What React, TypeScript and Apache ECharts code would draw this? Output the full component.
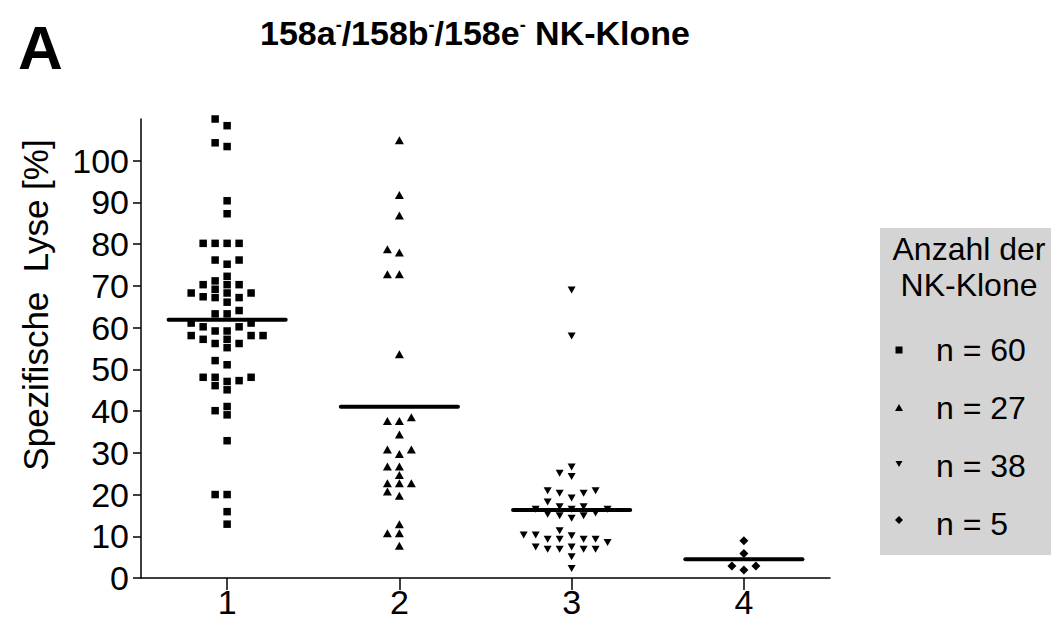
import React, { useEffect, useRef } from "react";
import * as echarts from "echarts";

// Spezifische Lyse [%] per NK-Klon, one column per target group
const categories = ["1", "2", "3", "4"];

const group1 = [
  110, 108.4, 104.3, 103.4, 90.4, 87.3, 80.2, 80.2, 80.2, 80.2, 76.2, 76.2,
  75.2, 72.3, 71.2, 70.3, 70.3, 70.3, 69.2, 68.3, 68.3, 68.3, 67.4, 67.2, 67.2,
  66.1, 64.1, 63.3, 63.3, 61.1, 61.1, 60.2, 60.2, 59.2, 59.2, 58.1, 58.1, 58.1,
  57.2, 57.2, 56.2, 56.2, 55.2, 52.1, 51.1, 48.1, 48.1, 48.1, 47.3, 47.1, 46.1,
  45.1, 41.1, 40.1, 39.1, 32.9, 20.0, 20.0, 15.9, 12.9,
];

const group2 = [
  104.9, 91.8, 86.9, 78.8, 78.0, 72.8, 72.8, 53.6, 38.5, 37.6, 37.6, 34.4, 30.8,
  30.8, 29.7, 26.7, 26.7, 24.7, 22.7, 22.7, 22.7, 20.7, 19.7, 12.9, 10.7, 10.7,
  7.7,
];

const group3 = [
  69.0, 58.0, 26.6, 25.1, 24.3, 20.9, 20.9, 20.3, 20.3, 19.2, 18.2, 17.1, 17.1,
  16.5, 16.5, 16.5, 15.6, 15.3, 14.9, 14.9, 14.3, 11.3, 10.3, 10.3, 10.1, 9.3,
  9.3, 9.3, 9.3, 8.5, 7.4, 7.4, 6.9, 6.9, 6.9, 6.9, 5.1, 2.3,
];

const group4 = [8.9, 5.9, 2.9, 2.9, 1.9];

const groups = [group1, group2, group3, group4];
const symbols = ["rect", "triangle", "triangle", "diamond"];
const symbolRotations = [0, 0, 180, 0];
const symbolSizes: (number | number[])[] = [7.5, [9, 8], [8, 7], [9, 9]];

const yTicks = [0, 10, 20, 30, 40, 50, 60, 70, 80, 90, 100];
const yMax = 110;

const titleText = "158a{sup|-}/158b{sup|-}/158e{sup|-} NK-Klone";
const panelLetter = "A";
const yAxisName = "Spezifische  Lyse [%]";
const legendTitle = ["Anzahl der", "NK-Klone"];

const FONT = '"Liberation Sans", Arial, Helvetica, sans-serif';

// Column layout: points that would overlap vertically are shifted into
// neighbouring lanes, lowest values first, nearest free lane to the centre.
const LANE_WIDTH = 12 / 172.5; // 12 px per lane on a 172.5 px category width
const COLLISION = 1.95; // value units

function swarm(values: number[], center: number): number[][] {
  const sorted = [...values].sort((a, b) => a - b);
  const placed: { v: number; lane: number }[] = [];
  const lanes = [0];
  for (let k = 1; k < 20; k++) lanes.push(-k, k);
  return sorted.map((v) => {
    const lane =
      lanes.find(
        (l) => !placed.some((p) => p.lane === l && Math.abs(p.v - v) < COLLISION)
      ) ?? 0;
    placed.push({ v, lane });
    return [center + lane * LANE_WIDTH, v];
  });
}

const mean = (a: number[]) => a.reduce((s, v) => s + v, 0) / a.length;

export default function App() {
  const ref = useRef<HTMLDivElement>(null);

  useEffect(() => {
    document.body.style.margin = "0";
    const chart = echarts.init(ref.current!, null, { renderer: "svg" });

    const scatterSeries = groups.map((g, i) => ({
      name: `n = ${g.length}`,
      type: "scatter",
      data: swarm(g, i + 1),
      symbol: symbols[i],
      symbolRotate: symbolRotations[i],
      symbolSize: symbolSizes[i],
      itemStyle: { color: "#000", opacity: 1 },
      clip: false,
      z: 2,
    }));

    const meanSeries = groups.map((g, i) => {
      const m = mean(g);
      return {
        type: "line",
        data: [
          [i + 1 - 0.34, m],
          [i + 1 + 0.34, m],
        ],
        symbol: "none",
        lineStyle: { color: "#000", width: 4, cap: "round" },
        silent: true,
        z: 3,
      };
    });

    // Legend panel on the right
    const legendX = 880;
    const rowY = (i: number) => 350 + i * 58;
    const sx = 899;
    const legendSymbols = [
      {
        type: "rect",
        shape: { x: sx - 3.5, y: rowY(0) - 3.5, width: 7, height: 7 },
        style: { fill: "#000" },
      },
      {
        type: "polygon",
        shape: {
          points: [
            [sx, rowY(1) - 4],
            [sx + 4, rowY(1) + 3],
            [sx - 4, rowY(1) + 3],
          ],
        },
        style: { fill: "#000" },
      },
      {
        type: "polygon",
        shape: {
          points: [
            [sx - 3.5, rowY(2) - 5],
            [sx + 3.5, rowY(2) - 5],
            [sx, rowY(2) + 1],
          ],
        },
        style: { fill: "#000" },
      },
      {
        type: "polygon",
        shape: {
          points: [
            [sx, rowY(3) - 8],
            [sx + 4, rowY(3) - 4],
            [sx, rowY(3)],
            [sx - 4, rowY(3) - 4],
          ],
        },
        style: { fill: "#000" },
      },
    ];

    const legendTexts = groups.map((g, i) => ({
      type: "text",
      x: 936,
      y: rowY(i),
      style: {
        text: `n = ${g.length}`,
        font: `32px ${FONT}`,
        fill: "#000",
        textAlign: "left",
        textVerticalAlign: "middle",
      },
    }));

    chart.setOption({
      animation: false,
      backgroundColor: "#fff",
      grid: { left: 141, top: 119, right: 221, bottom: 44, containLabel: false },
      xAxis: {
        type: "value",
        min: 0.5,
        max: 4.5,
        axisLine: { onZero: false, lineStyle: { color: "#000", width: 1.5 } },
        axisTick: {
          customValues: [1, 2, 3, 4],
          length: 12,
          lineStyle: { color: "#000", width: 1.5 },
        },
        axisLabel: {
          customValues: [1, 2, 3, 4],
          formatter: (v: number) => categories[Math.round(v) - 1],
          fontSize: 34,
          fontFamily: FONT,
          color: "#000",
          margin: 7,
        },
        splitLine: { show: false },
      },
      yAxis: {
        type: "value",
        min: 0,
        max: yMax,
        axisLine: { show: true, onZero: false, lineStyle: { color: "#000", width: 1.5 } },
        axisTick: {
          show: true,
          customValues: yTicks,
          length: 8,
          lineStyle: { color: "#000", width: 1.5 },
        },
        axisLabel: {
          customValues: yTicks,
          fontSize: 34,
          fontFamily: FONT,
          color: "#000",
          margin: 12,
        },
        splitLine: { show: false },
      },
      series: [...scatterSeries, ...meanSeries],
      graphic: [
        {
          type: "text",
          x: 18,
          y: 47,
          style: {
            text: panelLetter,
            font: `bold 62px ${FONT}`,
            fill: "#000",
            textAlign: "left",
            textVerticalAlign: "middle",
          },
        },
        {
          type: "text",
          x: 475,
          y: 33,
          style: {
            text: titleText,
            font: `bold 34px ${FONT}`,
            fill: "#000",
            textAlign: "center",
            textVerticalAlign: "middle",
            rich: {
              sup: {
                font: `bold 18px ${FONT}`,
                fill: "#000",
                verticalAlign: "top",
                padding: [0, 0, 14, 0],
              },
            },
          },
        },
        {
          type: "text",
          x: 35,
          y: 305,
          rotation: Math.PI / 2,
          style: {
            text: yAxisName,
            font: `35px ${FONT}`,
            fill: "#000",
            textAlign: "center",
            textVerticalAlign: "middle",
          },
        },
        {
          type: "rect",
          shape: { x: legendX, y: 228, width: 1051 - legendX, height: 327 },
          style: { fill: "#d4d4d4" },
          z: -1,
        },
        ...legendTitle.map((t, i) => ({
          type: "text",
          x: 969,
          y: 249 + i * 36,
          style: {
            text: t,
            font: `32px ${FONT}`,
            fill: "#000",
            textAlign: "center",
            textVerticalAlign: "middle",
          },
        })),
        ...legendSymbols,
        ...legendTexts,
      ],
    });

    return () => chart.dispose();
  }, []);

  return (
    <div
      ref={ref}
      style={{ position: "fixed", left: 0, top: 0, width: 1051, height: 622 }}
    />
  );
}
